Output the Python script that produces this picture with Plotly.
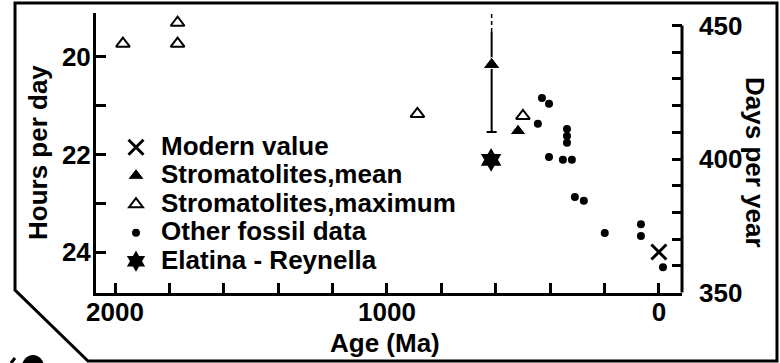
import plotly.graph_objects as go

# ---- data -------------------------------------------------------------
modern_age = [0]
modern_hours = [24.0]

strom_mean_age = [615, 518]
strom_mean_hours = [20.16, 21.52]
strom_mean_err_plus = [1.38, None]      # lower limit of the range (hours)
strom_mean_range_top = 19.49            # solid part of the upper range
strom_mean_range_open = 19.10           # range continues off scale (dashed)

strom_max_age = [1971, 1770, 1770, 888, 500]
strom_max_hours = [19.73, 19.30, 19.73, 21.17, 21.21]

fossil_age = [430, 404, 445, 404, 338, 338, 338, 353, 320, 309, 276, 199, 66, 66, -15]
fossil_hours = [20.84, 20.96, 21.37, 22.05, 21.48, 21.62, 21.76, 22.11, 22.11,
                22.87, 22.95, 23.61, 23.43, 23.67, 24.31]

elatina_age = [617]
elatina_hours = [22.11]

series_names = ["Modern value", "Stromatolites,mean", "Stromatolites,maximum",
                "Other fossil data", "Elatina - Reynella"]

x_ticks = list(range(0, 2001, 200))
x_ticklabels = ["0" if v == 0 else "1000" if v == 1000 else "2000" if v == 2000 else "" for v in x_ticks]
hours_ticks = [20, 21, 22, 23, 24]
hours_ticklabels = ["20", "", "22", "", "24"]
days_ticks = list(range(350, 451, 10))
days_ticklabels = ["350" if v == 350 else "400" if v == 400 else "450" if v == 450 else "" for v in days_ticks]

# ---- layout geometry (pixels) ----------------------------------------
W, H = 780, 363
ML, MR, MT, MB = 96, 98, 13, 70
PW, PH = W - ML - MR, H - MT - MB


def px(xp):
    return (xp - ML) / PW


def py(yp):
    return (H - MB - yp) / PH


FONT = "Liberation Sans"
INK = "black"
TXT = dict(family=FONT, size=26, color=INK, weight="bold")


def legend_label(name):
    # larger glyphs than the legend row spacing would normally allow
    return f'<span style="font-size:26px">{name}</span>'


fig = go.Figure()

fig.add_trace(go.Scatter(
    x=modern_age, y=modern_hours, mode="markers", name=legend_label(series_names[0]),
    marker=dict(symbol="x-thin-open", size=15, color=INK, line=dict(width=3, color=INK)),
))

# range of the older stromatolite mean: solid upper part then dashed
fig.add_trace(go.Scatter(
    x=[strom_mean_age[0], strom_mean_age[0]],
    y=[strom_mean_hours[0], strom_mean_range_top],
    mode="lines", line=dict(color=INK, width=2), showlegend=False, hoverinfo="skip",
))
fig.add_trace(go.Scatter(
    x=[strom_mean_age[0], strom_mean_age[0]],
    y=[strom_mean_range_top, strom_mean_range_open],
    mode="lines", line=dict(color=INK, width=1.5, dash="4px,3px"), showlegend=False,
    hoverinfo="skip",
))
fig.add_trace(go.Scatter(
    x=strom_mean_age, y=strom_mean_hours, mode="markers", name=legend_label(series_names[1]),
    marker=dict(symbol="triangle-up", size=[15, 14], color=INK, opacity=1),
    error_y=dict(type="data", symmetric=False, array=strom_mean_err_plus,
                 arrayminus=[0, None], color=INK, thickness=2, width=5),
))
fig.add_trace(go.Scatter(
    x=strom_max_age, y=strom_max_hours, mode="markers", name=legend_label(series_names[2]),
    marker=dict(symbol="triangle-up-open", size=12, color=INK, line=dict(width=2, color=INK)),
))
fig.add_trace(go.Scatter(
    x=fossil_age, y=fossil_hours, mode="markers", name=legend_label(series_names[3]),
    marker=dict(symbol="circle", size=8, color=INK),
))
fig.add_trace(go.Scatter(
    x=elatina_age, y=elatina_hours, mode="markers", name=legend_label(series_names[4]),
    marker=dict(symbol="hexagram", size=18, color=INK),
))
# invisible trace that carries the days-per-year axis
fig.add_trace(go.Scatter(x=[None], y=[None], yaxis="y2", showlegend=False, hoverinfo="skip"))

axis_common = dict(
    showgrid=False, zeroline=False, ticks="inside", ticklen=10, tickwidth=2.5,
    tickcolor=INK, tickfont=TXT,
)

fig.update_layout(
    width=W, height=H,
    margin=dict(l=ML, r=MR, t=MT, b=MB),
    paper_bgcolor="white", plot_bgcolor="white",
    font=dict(family=FONT, color=INK),
    xaxis=dict(range=[2070, -85], tickvals=x_ticks, ticktext=x_ticklabels,
               showline=True, linewidth=3, linecolor=INK, ticklabelstandoff=-6,
               **axis_common),
    yaxis=dict(range=[24.84, 19.10], tickvals=hours_ticks, ticktext=hours_ticklabels,
               showline=True, linewidth=3, linecolor=INK, ticklabelstandoff=-3,
               **axis_common),
    yaxis2=dict(range=[349.8, 454.7], overlaying="y", side="right",
                tickvals=days_ticks, ticktext=days_ticklabels,
                showline=False, ticklabelstandoff=16, **axis_common),
    showlegend=True,
    legend=dict(x=px(111), y=py(128), xanchor="left", yanchor="top",
                bgcolor="rgba(0,0,0,0)", borderwidth=0,
                font=dict(family=FONT, size=19.6, color=INK, weight="bold"), itemwidth=40),
)

# right (days per year) axis line spans 350-450 only
fig.add_shape(type="line", xref="paper", yref="y2", x0=1, x1=1, y0=350, y1=450,
              line=dict(color=INK, width=3))

# outer frame of the figure panel with the clipped lower-left corner
frame = [(15, 290), (15, 3), (777, 3), (777, 361), (88, 361)]
path = "M " + " L ".join(f"{px(a):.4f},{py(b):.4f}" for a, b in frame) + " Z"
fig.add_shape(type="path", xref="paper", yref="paper", path=path,
              line=dict(color=INK, width=3), fillcolor="rgba(0,0,0,0)")

# top of the next panel's label peeking in at the lower-left corner
fig.add_shape(type="circle", xref="paper", yref="paper",
              x0=px(22), x1=px(44), y0=py(355), y1=py(379),
              fillcolor=INK, line=dict(width=0))
fig.add_shape(type="line", xref="paper", yref="paper",
              x0=px(11), x1=px(15), y0=py(363), y1=py(358),
              line=dict(color=INK, width=3))

title_font = dict(family=FONT, size=26, color=INK, weight="bold")
fig.add_annotation(text="Hours per day", xref="paper", yref="paper", x=px(38), y=py(153),
                   xanchor="center", yanchor="middle", textangle=-90, showarrow=False,
                   font=title_font)
fig.add_annotation(text="Days per year", xref="paper", yref="paper", x=px(755), y=py(162),
                   xanchor="center", yanchor="middle", textangle=90, showarrow=False,
                   font=title_font)
fig.add_annotation(text="Age (Ma)", xref="paper", yref="paper", x=px(385), y=py(343),
                   xanchor="center", yanchor="middle", showarrow=False, font=title_font)

fig.write_html("out.html")
